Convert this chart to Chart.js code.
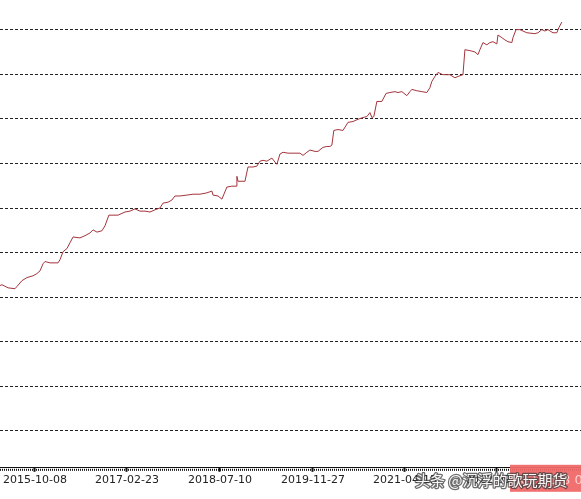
<!DOCTYPE html>
<html>
<head>
<meta charset="utf-8">
<script src="https://cdn.jsdelivr.net/npm/chart.js@4.4.0/dist/chart.umd.min.js"></script>
<style>
  html, body { margin: 0; padding: 0; background: #fff; }
  #wrap { width: 581px; height: 499px; position: relative; }
</style>
</head>
<body>
<div id="wrap"><canvas id="chart"></canvas></div>
<script>
// bar index (trading days since start) and net value
const barIdx = [0, 7, 29, 54, 61, 79, 97, 119, 133, 144, 155, 162, 180, 209, 216, 227, 241, 252, 263, 288,
  306, 324, 335, 349, 367, 378, 392, 407, 425, 450, 468, 486, 504, 522, 540, 558, 576, 587, 605, 619,
  630, 648, 673, 695, 720, 745, 763, 767, 785, 799, 817, 835, 850, 853, 857, 882, 893, 911, 925, 936,
  947, 961, 979, 990, 997, 1008, 1019, 1037, 1062, 1080, 1091, 1105, 1116, 1134, 1145, 1163, 1177, 1188, 1195, 1202,
  1217, 1235, 1253, 1271, 1289, 1307, 1321, 1332, 1339, 1346, 1357, 1375, 1390, 1404, 1422, 1433, 1447, 1465, 1476, 1483,
  1501, 1519, 1537, 1548, 1555, 1566, 1577, 1595, 1620, 1638, 1649, 1667, 1674, 1692, 1710, 1721, 1728, 1739, 1753, 1764,
  1775, 1789, 1793, 1807, 1818, 1829, 1843, 1847, 1858, 1872, 1897, 1926, 1937, 1951, 1962, 1973, 1991, 2005, 2012, 2023];

const navValues = [4.26, 4.28, 4.21, 4.19, 4.24, 4.37, 4.44, 4.48, 4.53, 4.59, 4.75, 4.80, 4.77, 4.77, 4.84, 5.02, 5.09, 5.22, 5.35, 5.33,
  5.38, 5.44, 5.51, 5.46, 5.49, 5.60, 5.84, 5.84, 5.84, 5.91, 5.93, 5.98, 5.93, 5.93, 5.91, 5.96, 6.00, 6.11, 6.13, 6.18,
  6.27, 6.27, 6.29, 6.31, 6.31, 6.34, 6.38, 6.29, 6.27, 6.20, 6.47, 6.49, 6.49, 6.71, 6.60, 6.60, 6.92, 6.92, 6.94, 7.05,
  7.07, 7.05, 7.12, 7.03, 6.98, 7.21, 7.25, 7.23, 7.23, 7.23, 7.18, 7.25, 7.30, 7.27, 7.27, 7.36, 7.38, 7.38, 7.41, 7.74,
  7.76, 7.74, 7.92, 7.94, 7.99, 8.03, 8.05, 8.14, 8.03, 8.05, 8.39, 8.39, 8.57, 8.59, 8.61, 8.59, 8.61, 8.52, 8.61, 8.66,
  8.63, 8.61, 8.59, 8.70, 8.84, 8.95, 9.04, 8.99, 8.99, 8.92, 8.95, 8.99, 9.55, 9.53, 9.50, 9.44, 9.55, 9.71, 9.66, 9.71,
  9.73, 9.68, 9.88, 9.82, 9.77, 9.73, 9.71, 9.82, 10.00, 10.00, 9.93, 9.91, 9.93, 10.00, 9.97, 10.00, 9.93, 9.93, 10.04, 10.17];

// date tick labels and where they sit on the bar index
const tickBars = [126, 457, 792, 1127, 1458, 1789];
const tickDates = ['2015-10-08', '2017-02-23', '2018-07-10', '2019-11-27', '2021-04-15', '2022-09-01'];

const gridValues = [1, 2, 3, 4, 5, 6, 7, 8, 9, 10];

// dense minor tick row under the axis + watermark
const axisDecor = {
    id: 'axisDecor',
    afterDraw(chart) {
        const ctx = chart.ctx;
        const area = chart.chartArea;
        ctx.save();
        ctx.strokeStyle = '#111';
        ctx.lineWidth = 2;
        ctx.setLineDash([1, 1]);
        ctx.beginPath();
        ctx.moveTo(area.left, area.bottom + 2);
        ctx.lineTo(area.right, area.bottom + 2);
        ctx.stroke();
        ctx.setLineDash([]);

        // timestamp badge
        ctx.fillStyle = 'rgba(240, 104, 104, 0.95)';
        ctx.fillRect(510, area.bottom - 3, 71, 27);
        ctx.fillStyle = 'rgba(255, 215, 215, 0.95)';
        ctx.font = '13px "DejaVu Sans"';
        ctx.textBaseline = 'middle';
        ctx.fillText('2023/3/8 0:0', 512, area.bottom + 13);

        // site watermark
        ctx.font = '15px "Noto Sans CJK SC"';
        ctx.lineWidth = 2.5;
        ctx.strokeStyle = 'rgba(60, 60, 60, 0.75)';
        ctx.fillStyle = 'rgba(255, 255, 255, 0.95)';
        ctx.lineJoin = 'round';
        const wm = '头条 @沉浮的歌玩期货';
        ctx.strokeText(wm, 415, area.bottom + 12);
        ctx.fillText(wm, 415, area.bottom + 12);
        ctx.restore();
    }
};

const points = barIdx.map((b, i) => ({ x: b, y: navValues[i] }));

new Chart(document.getElementById('chart'), {
    type: 'line',
    data: {
        datasets: [{
            data: points,
            borderColor: '#a3343c',
            borderWidth: 1,
            pointRadius: 0,
            tension: 0,
            fill: false
        }]
    },
    options: {
        responsive: true,
        maintainAspectRatio: false,
        animation: false,
        layout: { padding: { left: 0, right: 0, top: 0, bottom: 10 } },
        plugins: {
            legend: { display: false },
            tooltip: { enabled: false }
        },
        scales: {
            x: {
                type: 'linear',
                min: 0,
                max: 2092,
                afterBuildTicks: (scale) => {
                    scale.ticks = tickBars.map(v => ({ value: v }));
                },
                grid: {
                    display: true,
                    drawOnChartArea: false,
                    drawTicks: true,
                    tickLength: 4,
                    tickWidth: 2,
                    tickColor: '#111'
                },
                border: { display: true, color: '#111', width: 1 },
                ticks: {
                    padding: 2,
                    maxRotation: 0,
                    autoSkip: false,
                    color: '#222',
                    font: { family: 'DejaVu Sans', size: 11 },
                    callback: (v) => {
                        const i = tickBars.indexOf(v);
                        return i >= 0 ? tickDates[i] : '';
                    }
                }
            },
            y: {
                min: 0.174,
                max: 10.665,
                afterBuildTicks: (scale) => {
                    scale.ticks = gridValues.map(v => ({ value: v }));
                },
                grid: {
                    color: '#222',
                    lineWidth: 1,
                    drawTicks: false
                },
                border: { display: false, dash: [3, 2] },
                ticks: { display: false }
            }
        }
    },
    plugins: [axisDecor]
});
</script>
</body>
</html>
